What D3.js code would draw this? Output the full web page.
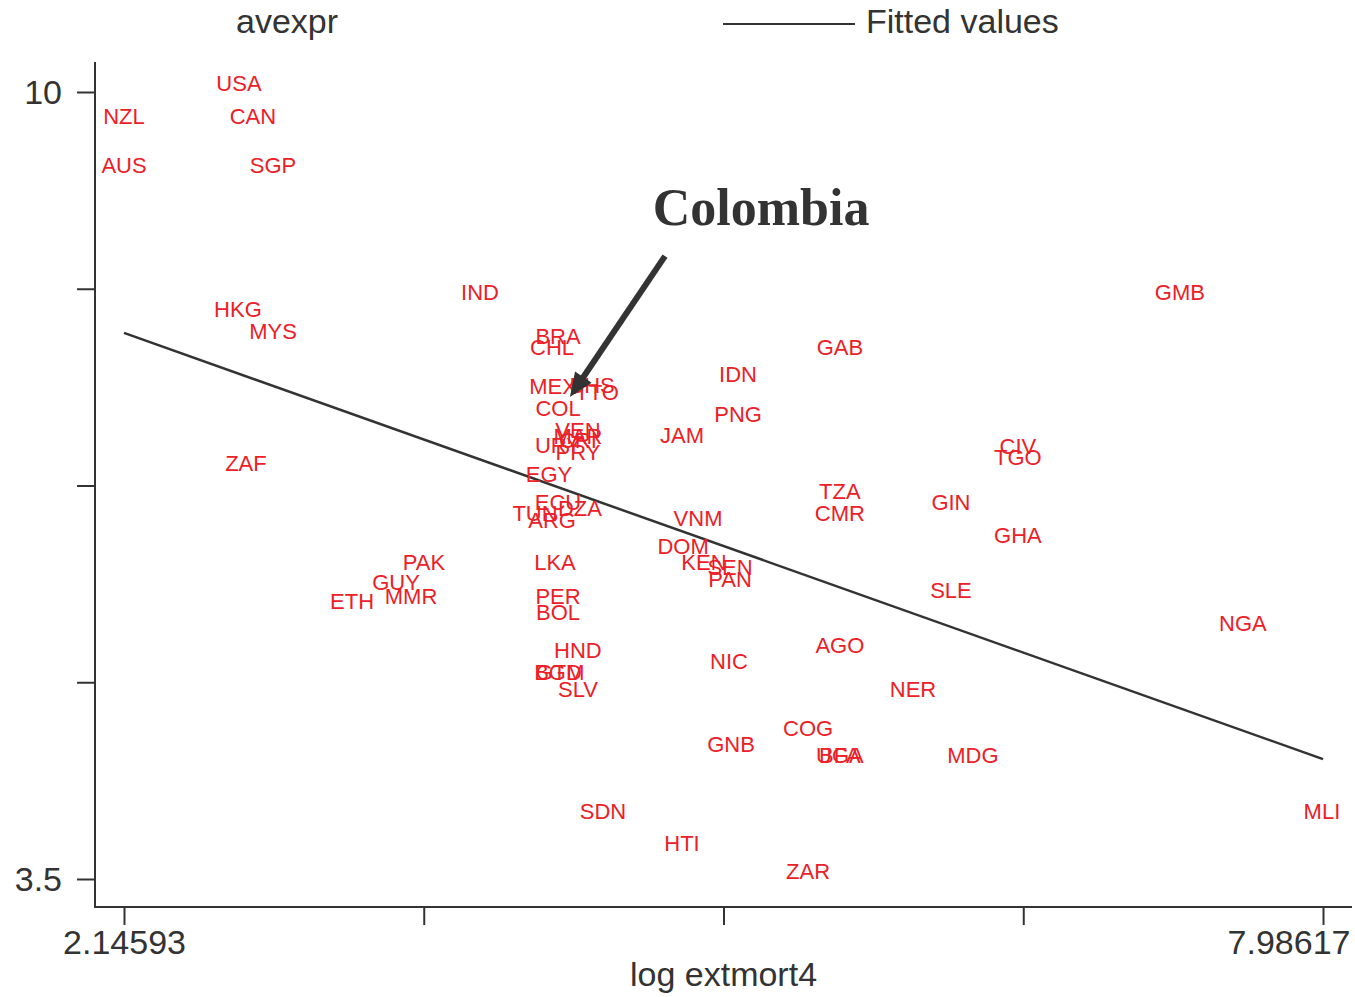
<!DOCTYPE html>
<html>
<head>
<meta charset="utf-8">
<script src="https://cdn.jsdelivr.net/npm/d3@7"></script>
<style>
  html, body { margin: 0; padding: 0; background: #fff; }
  svg { display: block; }
</style>
</head>
<body>
<svg id="chart" width="1355" height="997"></svg>
<script>
// ---- Data ----
const codes = ["USA","NZL","CAN","AUS","SGP","IND","GMB","HKG","MYS","BRA","CHL","GAB","IDN","MEX","BHS","TTO","COL","PNG","VEN","MAR","CRI","URY","PRY","JAM","CIV","TGO","ZAF","EGY","TZA","GIN","ECU","DZA","TUN","ARG","CMR","VNM","GHA","DOM","KEN","SEN","PAN","PAK","LKA","GUY","SLE","ETH","MMR","PER","BOL","NGA","AGO","HND","NIC","BGD","GTM","SLV","NER","COG","GNB","UGA","BFA","MDG","SDN","MLI","HTI","ZAR"];
const logMort = [2.706,2.146,2.774,2.146,2.872,3.880,7.289,2.701,2.872,4.260,4.231,5.633,5.137,4.236,4.426,4.450,4.260,5.137,4.357,4.357,4.357,4.260,4.357,4.864,6.500,6.500,2.740,4.216,5.633,6.174,4.260,4.367,4.148,4.231,5.633,4.942,6.500,4.869,4.971,5.098,5.098,3.607,4.245,3.471,6.174,3.257,3.544,4.260,4.260,7.596,5.633,4.357,5.093,4.260,4.270,4.357,5.989,5.478,5.103,5.633,5.633,6.281,4.479,7.981,4.864,5.478];
const avexpr  = [10.074,9.802,9.802,9.397,9.397,8.348,8.348,8.208,8.026,7.985,7.894,7.894,7.671,7.572,7.580,7.522,7.390,7.341,7.208,7.159,7.126,7.085,7.027,7.167,7.076,6.985,6.936,6.845,6.705,6.614,6.614,6.564,6.523,6.465,6.523,6.482,6.341,6.250,6.118,6.077,5.978,6.118,6.118,5.953,5.887,5.796,5.837,5.837,5.705,5.614,5.433,5.391,5.300,5.209,5.209,5.068,5.068,4.746,4.615,4.524,4.524,4.524,4.061,4.061,3.797,3.566];

const fitX = [2.14593, 7.98617];
const fitY = [8.01, 4.49];

const xTicks = [2.14593, 3.60599, 5.06605, 6.52611, 7.98617];
const xTickLabels = ["2.14593", "", "", "", "7.98617"];
const yTicks = [3.5, 5.125, 6.75, 8.375, 10];
const yTickLabels = ["3.5", "", "", "", "10"];

const arrowFrom = [4.781, 8.645];
const arrowTo = [4.318, 7.481];
const noteText = "Colombia";
const notePos = [5.249, 9.05];

const yTitle = "avexpr";
const xTitle = "log extmort4";
const legendLabel = "Fitted values";

// ---- Drawing ----
const ink = "#333333";
const red = "#ec2027";
const sans = "'Liberation Sans', Arial, Helvetica, sans-serif";

const svg = d3.select("#chart");
const x = d3.scaleLinear().domain([2.14593, 7.98617]).range([124, 1323]);
const y = d3.scaleLinear().domain([3.5, 10]).range([879, 92]);

const plotLeft = 95, plotRight = 1352, plotTop = 62, plotBottom = 907;

// axis frame lines
svg.append("line").attr("x1", plotLeft).attr("x2", plotLeft).attr("y1", plotTop).attr("y2", plotBottom + 1)
  .attr("stroke", ink).attr("stroke-width", 2);
svg.append("line").attr("x1", plotLeft - 1).attr("x2", plotRight).attr("y1", plotBottom).attr("y2", plotBottom)
  .attr("stroke", ink).attr("stroke-width", 2);

// y axis
const yAxis = svg.append("g").attr("transform", `translate(${plotLeft},0)`)
  .call(d3.axisLeft(y).tickValues(yTicks).tickFormat((d, i) => yTickLabels[i]).tickSize(18).tickPadding(15));
yAxis.select(".domain").remove();
yAxis.selectAll(".tick line").attr("stroke", ink).attr("stroke-width", 2);
yAxis.selectAll(".tick text").attr("fill", ink).attr("font-family", sans).attr("font-size", 34).attr("dy", "0.35em");

// x axis
const xAxis = svg.append("g").attr("transform", `translate(0,${plotBottom})`)
  .call(d3.axisBottom(x).tickValues(xTicks).tickFormat((d, i) => xTickLabels[i]).tickSize(18).tickPadding(5));
xAxis.select(".domain").remove();
xAxis.selectAll(".tick line").attr("stroke", ink).attr("stroke-width", 2);
xAxis.selectAll(".tick text").attr("fill", ink).attr("font-family", sans).attr("font-size", 34);
xAxis.selectAll(".tick").filter((d, i) => i === xTicks.length - 1).select("text")
  .attr("text-anchor", "end").attr("x", 27);

// titles
svg.append("text").attr("x", 287).attr("y", 33).attr("text-anchor", "middle")
  .attr("font-family", sans).attr("font-size", 34).attr("fill", ink).text(yTitle);
svg.append("text").attr("x", (plotLeft + plotRight) / 2 + 0).attr("y", 986).attr("text-anchor", "middle")
  .attr("font-family", sans).attr("font-size", 34).attr("fill", ink).text(xTitle);

// legend
svg.append("line").attr("x1", 723).attr("x2", 855).attr("y1", 24).attr("y2", 24)
  .attr("stroke", ink).attr("stroke-width", 2);
svg.append("text").attr("x", 866).attr("y", 33)
  .attr("font-family", sans).attr("font-size", 34).attr("fill", ink).text(legendLabel);

// fitted line
svg.append("path")
  .datum(fitX.map((d, i) => [d, fitY[i]]))
  .attr("d", d3.line().x(d => x(d[0])).y(d => y(d[1])))
  .attr("fill", "none").attr("stroke", ink).attr("stroke-width", 2.5);

// country labels
svg.append("g").selectAll("text")
  .data(codes.map((c, i) => ({ c, xv: logMort[i], yv: avexpr[i] })))
  .join("text")
  .attr("x", d => x(d.xv)).attr("y", d => y(d.yv)).attr("dy", "0.36em")
  .attr("text-anchor", "middle")
  .attr("font-family", sans).attr("font-size", 22).attr("fill", red)
  .text(d => d.c);

// arrow annotation
const ax1 = x(arrowFrom[0]), ay1 = y(arrowFrom[1]), ax2 = x(arrowTo[0]), ay2 = y(arrowTo[1]);
const len = Math.hypot(ax2 - ax1, ay2 - ay1);
const ux = (ax2 - ax1) / len, uy = (ay2 - ay1) / len;
const headLen = 24, headHalf = 10;
const bx = ax2 - ux * headLen, by = ay2 - uy * headLen;
svg.append("line").attr("x1", ax1).attr("y1", ay1).attr("x2", bx + ux * 2).attr("y2", by + uy * 2)
  .attr("stroke", ink).attr("stroke-width", 6);
svg.append("polygon")
  .attr("points", [[ax2, ay2], [bx - uy * headHalf, by + ux * headHalf], [bx + uy * headHalf, by - ux * headHalf]].map(p => p.join(",")).join(" "))
  .attr("fill", ink);

svg.append("text").attr("x", x(notePos[0])).attr("y", y(notePos[1])).attr("dy", "0.35em")
  .attr("text-anchor", "middle")
  .attr("font-family", "'Liberation Serif', 'Times New Roman', serif").attr("font-weight", "bold")
  .attr("font-size", 52).attr("fill", ink).text(noteText);
</script>
</body>
</html>
